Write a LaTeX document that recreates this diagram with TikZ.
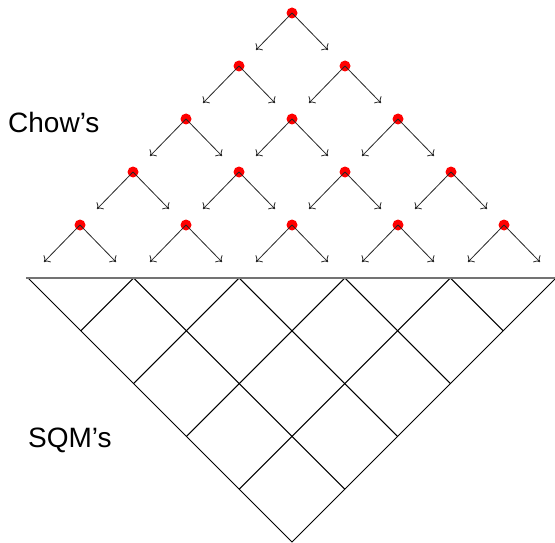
\documentclass[tikz,border=0pt]{standalone}
\usepackage{fontspec}
\setmainfont{Liberation Sans}
\usetikzlibrary{arrows.meta}
\begin{document}
\begin{tikzpicture}[x=1pt,y=-1pt,
  dot/.style={circle,fill=red,draw=none,minimum size=11pt,inner sep=0pt},
  edgearrow/.style={-{To[length=5pt,width=10pt]},line width=0.8pt,black!85},
  grid/.style={line width=1pt,black},
  lbl/.style={anchor=base west,inner sep=0pt,font=\fontsize{28}{34}\selectfont}]
\useasboundingbox (0,0) rectangle (555,543);

% pyramid of red nodes, each with two downward arrows
\foreach \k in {0,...,4}{
  \foreach \j in {0,...,\k}{
    \pgfmathsetmacro{\px}{292-53*\k+106*\j}
    \pgfmathsetmacro{\py}{13+53*\k}
    \node[dot] (d\k\j) at (\px,\py) {};
    \coordinate (l\k\j) at (\px-36,\py+37);
    \coordinate (r\k\j) at (\px+36,\py+37);
  }
}
\foreach \k in {0,...,4}{
  \foreach \j in {0,...,\k}{
    \draw[edgearrow] (d\k\j.center) -- (l\k\j);
    \draw[edgearrow] (d\k\j.center) -- (r\k\j);
  }
}

% triangular grid below
\coordinate (tl) at (28,278);
\coordinate (tr) at (556,278);
\coordinate (ap) at (292,542);
\draw[grid] (tl) -- (ap) -- (tr);
\foreach \k in {1,...,4}{
  \pgfmathsetmacro{\tx}{28+105.6*\k}
  \pgfmathsetmacro{\s}{52.8*\k}
  \pgfmathsetmacro{\u}{52.8*(5-\k)}
  \coordinate (t\k) at (\tx,278);
  \coordinate (el\k) at (28+\s,278+\s);
  \coordinate (er\k) at (556-\u,278+\u);
  \draw[grid] (el\k) -- (t\k) -- (er\k);
}
\coordinate (hl) at (26,278);
\coordinate (hr) at (556,278);
\draw[line width=1.5pt,black!55] (hl) -- (hr);

\node[lbl] (chow) at (8,132) {Chow’s};
\node[lbl] (sqm) at (28,447) {SQM’s};
\end{tikzpicture}
\end{document}
